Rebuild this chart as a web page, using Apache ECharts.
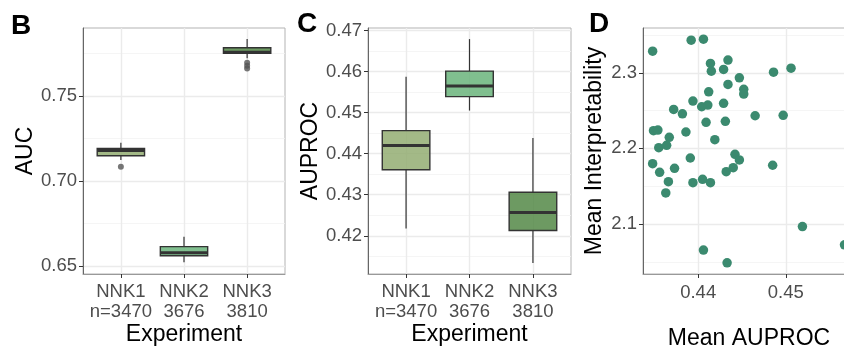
<!DOCTYPE html>
<html>
<head>
<meta charset="utf-8">
<script src="https://cdn.jsdelivr.net/npm/echarts@6/dist/echarts.min.js"></script>
<style>
  html, body { margin: 0; padding: 0; background: #fff; }
  #chart { width: 844px; height: 347px; }
</style>
</head>
<body>
<div id="chart"></div>
<script>
// categories (placed at 1, 2, 3 like a ggplot discrete axis)
const experiments = ['NNK1', 'NNK2', 'NNK3']
const sampleSizes = ['n=3470', '3676', '3810']

// boxes: [min, Q1, median, Q3, max]
const aucBoxes = [
  [0.7124, 0.7149, 0.7179, 0.7192, 0.7225],
  [0.6522, 0.6560, 0.6578, 0.6614, 0.6672],
  [0.7722, 0.7751, 0.7757, 0.7784, 0.7835]
]
// outliers: [experiment number, value]
const aucOutliers = [[1, 0.7084], [3, 0.7695], [3, 0.7678], [3, 0.7662]]

const auprocBoxes = [
  [0.4218, 0.4361, 0.4420, 0.4456, 0.4587],
  [0.4505, 0.4539, 0.4565, 0.4601, 0.4679],
  [0.4134, 0.4213, 0.4257, 0.4306, 0.4438]
]

// panel D scatter
const meanAuproc = [
  0.4348, 0.4392, 0.4406, 0.4414, 0.4434, 0.4415, 0.4429, 0.4486, 0.4506, 0.4447,
  0.4434, 0.4452, 0.4452, 0.4412, 0.4394, 0.4404, 0.4411, 0.4429, 0.4372, 0.4382,
  0.4465, 0.4497, 0.4409, 0.4431, 0.4349, 0.4354, 0.4386, 0.4367, 0.4419, 0.4355,
  0.4364, 0.4348, 0.4391, 0.4442, 0.4447, 0.4440, 0.4432, 0.4485, 0.4356, 0.4373,
  0.4366, 0.4394, 0.4405, 0.4414, 0.4363, 0.4519, 0.4567, 0.4406, 0.4433
]
const meanInterpretability = [
  2.3287, 2.3432, 2.3445, 2.3124, 2.3168, 2.3022, 2.3045, 2.3009, 2.3062, 2.2934,
  2.2847, 2.2781, 2.2719, 2.2749, 2.2626, 2.2551, 2.2573, 2.2596, 2.2516, 2.2458,
  2.2432, 2.2437, 2.2345, 2.2358, 2.2234, 2.2243, 2.2217, 2.2147, 2.2115, 2.2009,
  2.2041, 2.1798, 2.1873, 2.1922, 2.1847, 2.1745, 2.1692, 2.1777, 2.1684, 2.1737,
  2.1560, 2.1547, 2.1591, 2.1547, 2.1411, 2.0966, 2.0724, 2.0654, 2.0486
]

// tick labels
const aucTicks = [0.65, 0.70, 0.75]
const aucMinor = [0.675, 0.725, 0.775]
const auprocTicks = [0.42, 0.43, 0.44, 0.45, 0.46, 0.47]
const auprocMinor = [0.415, 0.425, 0.435, 0.445, 0.455, 0.465]
const dxTicks = [0.44, 0.45]
const dyTicks = [2.1, 2.2, 2.3]
const dyMinor = [2.05, 2.15, 2.25, 2.35]

const fills = ['rgba(147,173,114,0.85)', 'rgba(106,180,123,0.85)', 'rgba(84,136,70,0.85)']
const font = 'Liberation Sans'
const tickColor = '#4d4d4d'

function boxRows (boxes) {
  return boxes.map((b, i) => [i + 1].concat(b))
}

function renderBox (params, api) {
  const x = api.value(0)
  const pMin = api.coord([x, api.value(1)])
  const pQ1 = api.coord([x, api.value(2)])
  const pMed = api.coord([x, api.value(3)])
  const pQ3 = api.coord([x, api.value(4)])
  const pMax = api.coord([x, api.value(5)])
  const w = api.size([0.75, 0])[0]
  const line = { stroke: '#333', lineWidth: 1.2 }
  return {
    type: 'group',
    children: [
      { type: 'line', shape: { x1: pMax[0], y1: pMax[1], x2: pQ3[0], y2: pQ3[1] }, style: line },
      { type: 'line', shape: { x1: pQ1[0], y1: pQ1[1], x2: pMin[0], y2: pMin[1] }, style: line },
      {
        type: 'rect',
        shape: { x: pQ3[0] - w / 2, y: pQ3[1], width: w, height: pQ1[1] - pQ3[1] },
        style: { fill: fills[params.dataIndex], stroke: '#333', lineWidth: 1.4 }
      },
      {
        type: 'line',
        shape: { x1: pMed[0] - w / 2, y1: pMed[1], x2: pMed[0] + w / 2, y2: pMed[1] },
        style: { stroke: '#333', lineWidth: 3 }
      }
    ]
  }
}

const majorLine = { show: true, lineStyle: { color: '#ebebeb', width: 1.4 } }
const minorLine = { show: true, lineStyle: { color: '#f3f3f3', width: 0.8 } }

function catAxis (gridIndex) {
  return {
    type: 'value', gridIndex: gridIndex, min: 0.4, max: 3.6, position: 'bottom',
    axisLine: { show: true, onZero: false, lineStyle: { color: '#999' } },
    axisTick: { show: true, length: 4, customValues: [1, 2, 3], lineStyle: { color: '#333' } },
    axisLabel: {
      customValues: [1, 2, 3], margin: 8, color: tickColor, fontSize: 18.5, fontFamily: font, lineHeight: 20,
      formatter: v => experiments[v - 1] + '\n' + sampleSizes[v - 1]
    },
    splitLine: majorLine,
    name: 'Experiment', nameLocation: 'middle', nameGap: 49, nameMoveOverlap: false,
    nameTextStyle: { fontSize: 23, color: '#000', fontFamily: font }
  }
}

function valAxis (gridIndex, min, max, ticks, digits, name, gap) {
  return {
    type: 'value', gridIndex: gridIndex, min: min, max: max, position: 'left',
    axisLine: { show: true, onZero: false, lineStyle: { color: '#666' } },
    axisTick: { show: true, length: 4, customValues: ticks, lineStyle: { color: '#333' } },
    axisLabel: {
      customValues: ticks, margin: 6, color: tickColor, fontSize: 18.5, fontFamily: font,
      formatter: v => v.toFixed(digits)
    },
    splitLine: majorLine,
    name: name, nameLocation: 'middle', nameGap: gap,
    nameTextStyle: { fontSize: 23, color: '#000', fontFamily: font }
  }
}

function minorAxis (gridIndex, min, max, ticks) {
  return {
    type: 'value', gridIndex: gridIndex, min: min, max: max, position: 'right',
    axisLine: { show: false }, axisLabel: { show: false },
    axisTick: { show: false, customValues: ticks },
    splitLine: minorLine
  }
}

const gridBase = {
  top: 28, height: 246, show: true, borderColor: '#b3b3b3', borderWidth: 1,
  backgroundColor: '#fff', outerBoundsMode: 'none', containLabel: false
}
const letter = () => ({ fontSize: 28, fontWeight: 'bold', color: '#000', fontFamily: font })

const chart = echarts.init(document.getElementById('chart'))
chart.setOption({
  animation: false,
  backgroundColor: '#fff',
  title: [
    { text: 'B', left: 11, top: 12, padding: 0, textStyle: letter() },
    { text: 'C', left: 297, top: 10, padding: 0, textStyle: letter() },
    { text: 'D', left: 589, top: 10, padding: 0, textStyle: letter() }
  ],
  grid: [
    Object.assign({ left: 83, width: 202 }, gridBase),
    Object.assign({ left: 368, width: 203 }, gridBase),
    Object.assign({ left: 643, width: 212 }, gridBase)
  ],
  xAxis: [
    catAxis(0),
    catAxis(1),
    {
      type: 'value', gridIndex: 2, min: 0.4337, max: 0.4579, position: 'bottom',
      axisLine: { show: true, onZero: false, lineStyle: { color: '#999' } },
      axisTick: { show: true, length: 4, customValues: dxTicks, lineStyle: { color: '#333' } },
      axisLabel: { customValues: dxTicks, margin: 9, color: tickColor, fontSize: 18.5, fontFamily: font, formatter: v => v.toFixed(2) },
      splitLine: majorLine,
      name: 'Mean AUPROC', nameLocation: 'middle', nameGap: 53, nameMoveOverlap: false,
      nameTextStyle: { fontSize: 23, color: '#000', fontFamily: font }
    }
  ],
  yAxis: [
    valAxis(0, 0.6453, 0.79, aucTicks, 2, 'AUC', 45),
    minorAxis(0, 0.6453, 0.79, aucMinor),
    valAxis(1, 0.4107, 0.4706, auprocTicks, 2, 'AUPROC', 46),
    minorAxis(1, 0.4107, 0.4706, auprocMinor),
    valAxis(2, 2.0338, 2.3593, dyTicks, 1, 'Mean Interpretability', 37),
    minorAxis(2, 2.0338, 2.3593, dyMinor)
  ],
  series: [
    {
      type: 'custom', xAxisIndex: 0, yAxisIndex: 0, renderItem: renderBox,
      encode: { x: 0, y: [1, 2, 3, 4, 5] }, data: boxRows(aucBoxes), z: 3
    },
    {
      type: 'scatter', xAxisIndex: 0, yAxisIndex: 0, data: aucOutliers,
      symbolSize: 6, itemStyle: { color: '#555', opacity: 0.8 }, z: 4
    },
    {
      type: 'custom', xAxisIndex: 1, yAxisIndex: 2, renderItem: renderBox,
      encode: { x: 0, y: [1, 2, 3, 4, 5] }, data: boxRows(auprocBoxes), z: 3
    },
    {
      type: 'scatter', xAxisIndex: 2, yAxisIndex: 4,
      data: meanAuproc.map((v, i) => [v, meanInterpretability[i]]),
      symbolSize: 9.5, itemStyle: { color: '#3b8a6f', opacity: 1 }, z: 3
    }
  ]
})
</script>
</body>
</html>
